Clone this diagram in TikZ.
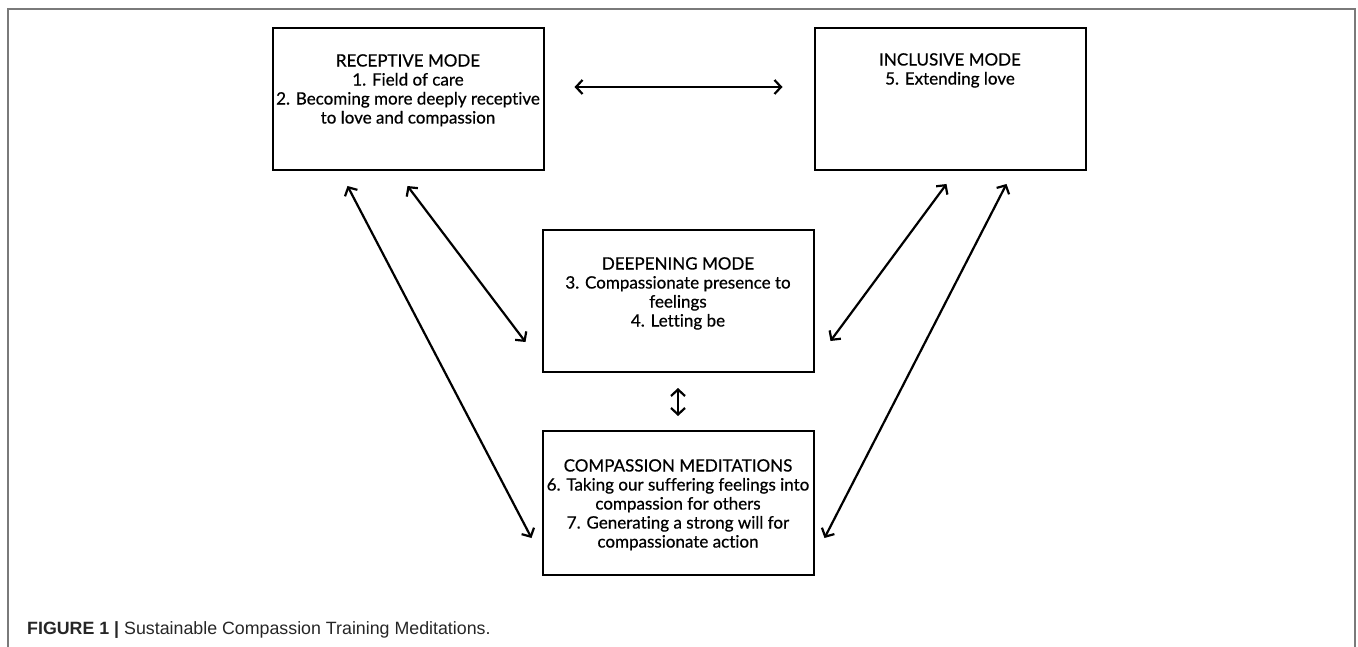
\documentclass[tikz,border=0pt]{standalone}
\usepackage{fontspec}
\setmainfont{Lato}[Ligatures=NoCommon]
\newfontfamily\modefont{Lato}[Ligatures=NoCommon,FakeBold=0.6]
\newfontfamily\capfont{Liberation Sans}
\usepackage{tikz}
\usetikzlibrary{positioning,arrows.meta}
\tikzset{%
  mode/.style={%
    rectangle,%
    draw,%
    line width=2pt,%
    minimum width=271pt,%
    minimum height=142pt},%
  modetext/.style={%
    align=center,%
    inner sep=0pt,%
    anchor=north,%
    font=\modefont\fontsize{17}{19}\selectfont},%
  link/.style={%
    {Straight Barb[length=6.5pt,width=14pt]}-{Straight Barb[length=6.5pt,width=14pt]},%
    line width=2.2pt}
}
\definecolor{framegray}{HTML}{7A7A7A}
\definecolor{captext}{HTML}{262626}

\begin{document}
\begin{tikzpicture}[x=1pt,y=-1pt]
        \useasboundingbox (0,0) rectangle (1358,647);
        \draw [framegray,line width=1.5pt] (8,648) |- (1355,9) -- (1355,648);
        \node [mode] (rec) at (408,99) {};
        \node [mode] (inc) at (950,99) {};
        \node [mode] (dee) at (678,301) {};
        \node [mode,minimum height=144pt] (com) at (678,503) {};
        \node [modetext,below=27pt of rec.north] (rectext) {%
          RECEPTIVE MODE\\%
          1. Field of care\\%
          2. Becoming more deeply receptive\\%
          to love and compassion};
        \node [modetext,below=26pt of inc.north] (inctext) {%
          INCLUSIVE MODE\\%
          5. Extending love};
        \node [modetext,below=28pt of dee.north] (deetext) {%
          DEEPENING MODE\\%
          3. Compassionate presence to\\%
          feelings\\%
          4. Letting be};
        \node [modetext,below=29pt of com.north] (comtext) {%
          COMPASSION MEDITATIONS\\%
          6. Taking our suffering feelings into\\%
          compassion for others\\%
          7. Generating a strong will for\\%
          compassionate action};
        \draw [link] ([xshift=30pt,yshift=12pt]rec.east) -- ([xshift=-31pt,yshift=12pt]inc.west);
        \draw [link] ([xshift=76pt,yshift=-15pt]rec.south west) -- ([xshift=-10pt,yshift=-35pt]com.west);
        \draw [link] ([xshift=136pt,yshift=-15pt]rec.south west) -- ([xshift=-16pt,yshift=-41pt]dee.west);
        \draw [link] ([xshift=133pt,yshift=-13pt]inc.south west) -- ([xshift=16pt,yshift=-40pt]dee.east);
        \draw [link] ([xshift=193pt,yshift=-13pt]inc.south west) -- ([xshift=10pt,yshift=-35pt]com.east);
        \draw [link] ([yshift=-15pt]dee.south) -- ([yshift=14pt]com.north);
        \node [anchor=base west,inner sep=0pt,text=captext,font=\capfont\fontsize{17.8}{20}\selectfont] (caption) at (27,634) {%
          \textbf{FIGURE 1 |} Sustainable Compassion Training Meditations.};
      \end{tikzpicture}
\end{document}
